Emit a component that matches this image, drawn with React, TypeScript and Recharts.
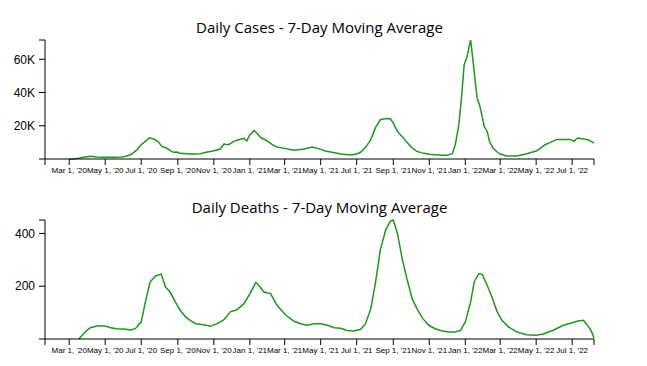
import React from 'react';
import { LineChart, Line, XAxis, YAxis } from 'recharts';

// daily cases, 7-day moving average
const caseDates = [
  '2020-03-01', '2020-03-08', '2020-03-17', '2020-03-25', '2020-04-06', '2020-04-17', '2020-05-01', '2020-05-15',
  '2020-05-29', '2020-06-07', '2020-06-15', '2020-06-24', '2020-07-01', '2020-07-08', '2020-07-15', '2020-07-22',
  '2020-07-29', '2020-08-05', '2020-08-13', '2020-08-19', '2020-08-25', '2020-08-31', '2020-09-05', '2020-09-17',
  '2020-09-28', '2020-10-09', '2020-10-21', '2020-10-31', '2020-11-12', '2020-11-18', '2020-11-26', '2020-12-05',
  '2020-12-13', '2020-12-22', '2020-12-27', '2021-01-01', '2021-01-08', '2021-01-12', '2021-01-19', '2021-01-30',
  '2021-02-08', '2021-02-16', '2021-03-01', '2021-03-17', '2021-04-03', '2021-04-17', '2021-05-01', '2021-05-09',
  '2021-05-18', '2021-06-04', '2021-06-21', '2021-07-01', '2021-07-08', '2021-07-16', '2021-07-25', '2021-08-02',
  '2021-08-10', '2021-08-19', '2021-08-27', '2021-09-01', '2021-09-08', '2021-09-16', '2021-09-24', '2021-10-03',
  '2021-10-11', '2021-10-23', '2021-11-01', '2021-11-11', '2021-11-23', '2021-12-01', '2021-12-10', '2021-12-15',
  '2021-12-21', '2021-12-26', '2021-12-30', '2022-01-04', '2022-01-10', '2022-01-12', '2022-01-16', '2022-01-21',
  '2022-01-25', '2022-01-29', '2022-02-02', '2022-02-07', '2022-02-11', '2022-02-17', '2022-02-24', '2022-03-01',
  '2022-03-12', '2022-03-29', '2022-04-15', '2022-05-01', '2022-05-08', '2022-05-16', '2022-05-25', '2022-06-05',
  '2022-06-16', '2022-06-28', '2022-07-04', '2022-07-10', '2022-07-20', '2022-07-29', '2022-08-07',
];
const caseValues = [
  0, 0, 400, 1000, 1600, 1200, 1000, 1000,
  1200, 1800, 3000, 5600, 8600, 10600, 12800, 12000,
  10600, 7600, 6600, 5000, 4000, 4200, 3400, 3200,
  3000, 3200, 4200, 4800, 6000, 9000, 8600, 10600,
  11600, 12400, 11000, 14600, 17200, 16000, 13000, 11000,
  8600, 7200, 6400, 5200, 6000, 7200, 5800, 4800,
  4200, 3000, 2400, 3000, 4200, 7000, 11600, 19000,
  23600, 24400, 24200, 21600, 16600, 13600, 10000, 6600,
  4600, 3400, 2800, 2600, 2200, 2200, 3200, 8600,
  20600, 38600, 56600, 61600, 71600, 65600, 52600, 36600,
  32600, 26600, 19600, 16600, 10600, 6600, 4200, 3000,
  1800, 1800, 3200, 4800, 6400, 8600, 10000, 11800,
  11800, 11800, 10600, 12600, 12000, 11400, 9600,
];

// daily deaths, 7-day moving average
const deathDates = [
  '2020-03-17', '2020-03-22', '2020-03-31', '2020-04-06', '2020-04-17', '2020-05-01', '2020-05-10', '2020-05-21',
  '2020-06-01', '2020-06-13', '2020-06-21', '2020-07-01', '2020-07-08', '2020-07-16', '2020-07-25', '2020-08-04',
  '2020-08-11', '2020-08-19', '2020-08-28', '2020-09-05', '2020-09-14', '2020-09-22', '2020-10-01', '2020-10-15',
  '2020-10-26', '2020-11-07', '2020-11-18', '2020-11-29', '2020-12-10', '2020-12-22', '2021-01-02', '2021-01-11',
  '2021-01-16', '2021-01-25', '2021-02-05', '2021-02-16', '2021-03-03', '2021-03-17', '2021-03-28', '2021-04-08',
  '2021-04-20', '2021-05-01', '2021-05-12', '2021-05-24', '2021-06-04', '2021-06-15', '2021-06-26', '2021-07-08',
  '2021-07-16', '2021-07-25', '2021-08-02', '2021-08-10', '2021-08-19', '2021-08-27', '2021-09-01', '2021-09-08',
  '2021-09-16', '2021-09-24', '2021-10-03', '2021-10-11', '2021-10-20', '2021-10-31', '2021-11-11', '2021-11-23',
  '2021-12-04', '2021-12-15', '2021-12-24', '2022-01-01', '2022-01-10', '2022-01-16', '2022-01-24', '2022-01-30',
  '2022-02-07', '2022-02-15', '2022-02-24', '2022-03-04', '2022-03-15', '2022-03-29', '2022-04-15', '2022-05-01',
  '2022-05-13', '2022-05-30', '2022-06-16', '2022-06-30', '2022-07-09', '2022-07-20', '2022-07-29', '2022-08-03',
  '2022-08-07',
];
const deathValues = [
  0, 11, 33, 43, 49, 49, 43, 39,
  38, 34, 39, 65, 140, 216, 239, 246,
  197, 178, 140, 109, 84, 71, 58, 54,
  48, 58, 73, 103, 111, 134, 175, 214,
  204, 178, 172, 128, 90, 67, 58, 52,
  58, 58, 52, 43, 41, 32, 30, 37,
  58, 115, 216, 337, 413, 447, 451, 400,
  305, 229, 153, 115, 80, 52, 39, 30,
  27, 27, 33, 65, 140, 216, 248, 244,
  204, 160, 103, 71, 46, 27, 16, 14,
  19, 33, 52, 61, 67, 71, 46, 27,
  4,
];

const xStart = '2020-01-20';
const xEnd = '2022-08-07';
const xTickDates = [
  '2020-03-01', '2020-05-01', '2020-07-01', '2020-09-01', '2020-11-01',
  '2021-01-01', '2021-03-01', '2021-05-01', '2021-07-01', '2021-09-01', '2021-11-01',
  '2022-01-01', '2022-03-01', '2022-05-01', '2022-07-01',
];
const caseTicks = [0, 20000, 40000, 60000];
const deathTicks = [0, 200, 400];

const MONTHS = ['Jan', 'Feb', 'Mar', 'Apr', 'May', 'Jun', 'Jul', 'Aug', 'Sep', 'Oct', 'Nov', 'Dec'];
const LINE = '#1f961f';

const t0 = Date.parse(xStart);
const t1 = Date.parse(xEnd);
const xTicks = [t0, ...xTickDates.map((d) => Date.parse(d)), t1];

const fmtDate = (v: number) => {
  if (v === t0 || v === t1) return '';
  const d = new Date(v);
  return `${MONTHS[d.getUTCMonth()]} ${d.getUTCDate()}, '${String(d.getUTCFullYear()).slice(2)}`;
};

const caseData = caseDates.map((d, i) => ({ t: Date.parse(d), v: caseValues[i] }));
const deathData = deathDates.map((d, i) => ({ t: Date.parse(d), v: deathValues[i] }));

function Panel({ title, data, yTicks, top, fmtY }: any) {
  const max = Math.max(...data.map((p: any) => p.v));
  const ticks = [...yTicks, max];
  return (
    <div style={{ position: 'absolute', left: 0, top, width: 647, height: 183 }}>
      <div
        style={{
          position: 'absolute', left: 45, top: 20, width: 549, textAlign: 'center',
          fontFamily: 'Open Sans', fontSize: 15, lineHeight: '15px', color: '#000', whiteSpace: 'nowrap',
        }}
      >
        {title}
      </div>
      <LineChart width={647} height={183} data={data} margin={{ top: 40, right: 53, bottom: 0, left: 0 }}>
        <XAxis
          dataKey="t"
          type="number"
          domain={[t0, t1]}
          ticks={xTicks}
          interval={0}
          tickFormatter={fmtDate}
          height={24}
          tickSize={6}
          tickMargin={2}
          axisLine={{ stroke: '#000' }}
          tickLine={{ stroke: '#000' }}
          tick={{ fontSize: 8, fill: '#000', fontFamily: 'Liberation Sans, Arial, sans-serif' }}
        />
        <YAxis
          type="number"
          domain={[0, max]}
          ticks={ticks}
          interval={0}
          width={45}
          tickSize={6}
          tickMargin={4}
          tickFormatter={(v: number) => (v === 0 || v === max ? '' : fmtY(v))}
          axisLine={{ stroke: '#000' }}
          tickLine={{ stroke: '#000' }}
          tick={{ fontSize: 12, fill: '#000', fontFamily: 'Liberation Sans, Arial, sans-serif' }}
        />
        <Line
          type="linear"
          dataKey="v"
          stroke={LINE}
          strokeWidth={1.5}
          dot={false}
          isAnimationActive={false}
        />
      </LineChart>
    </div>
  );
}

export default function App() {
  return (
    <div style={{ position: 'absolute', left: 0, top: 0, width: 647, height: 366, background: '#fff' }}>
      <Panel
        title="Daily Cases - 7-Day Moving Average"
        data={caseData}
        yTicks={caseTicks}
        top={0}
        fmtY={(v: number) => `${v / 1000}K`}
      />
      <Panel
        title="Daily Deaths - 7-Day Moving Average"
        data={deathData}
        yTicks={deathTicks}
        top={180}
        fmtY={(v: number) => `${v}`}
      />
    </div>
  );
}
